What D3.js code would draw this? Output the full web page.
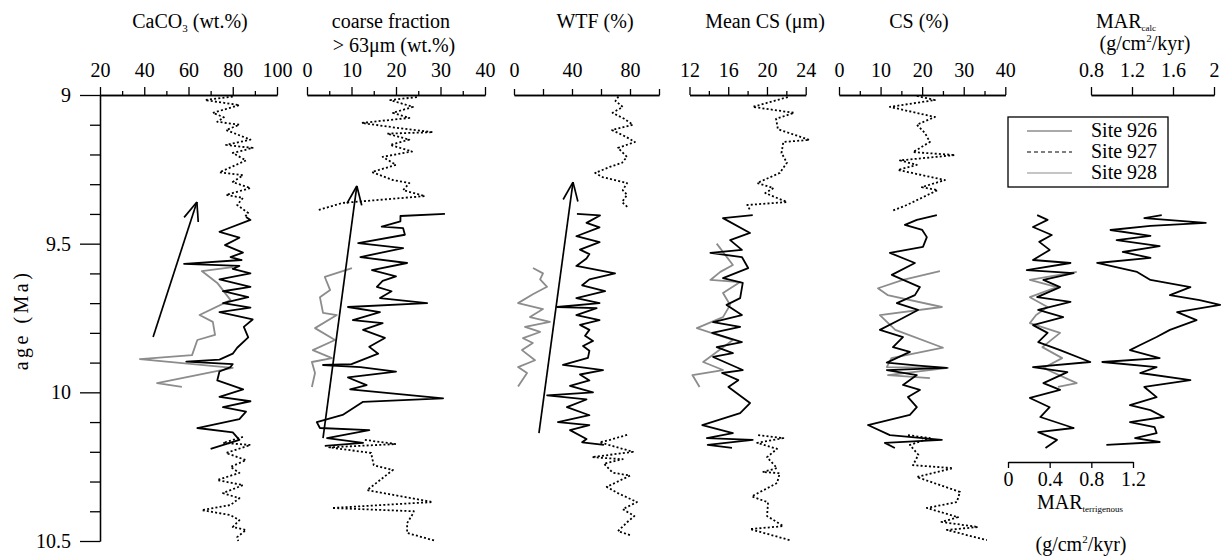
<!DOCTYPE html>
<html>
<head>
<meta charset="utf-8">
<script src="https://cdn.jsdelivr.net/npm/d3@7"></script>
<style>
  body { margin: 0; background: #fff; }
  text { font-family: "Liberation Serif", "Times New Roman", serif; fill: #000; }
</style>
</head>
<body>
<div id="chart"></div>
<script>

// ---- data: [age (Ma), value] ----

var ageMajor = [9, 9.5, 10, 10.5];
var ageMinor = [9.1, 9.2, 9.3, 9.4, 9.6, 9.7, 9.8, 9.9, 10.1, 10.2, 10.3, 10.4];

// CaCO3 (wt.%)
var caco3_927a = [[9.005,80],[9.017,67.5],[9.034,83],[9.06,71],[9.075,76],[9.09,73],[9.10,83],[9.118,77],[9.15,88],[9.168,77],[9.178,89],[9.195,80],[9.22,86],[9.24,80],[9.26,74],[9.27,84.6],[9.293,80],[9.313,88],[9.336,77],[9.346,84.6],[9.37,82],[9.397,87],[9.41,85.5]];
var caco3_926 = [[9.41,86],[9.42,88],[9.46,74],[9.48,83],[9.505,76.5],[9.53,84.6],[9.545,79],[9.555,84],[9.568,58],[9.575,83],[9.585,80],[9.60,88],[9.62,74],[9.645,88],[9.66,75.6],[9.68,87],[9.70,75.6],[9.715,88],[9.73,74],[9.755,89],[9.78,85],[9.815,87],[9.85,82],[9.87,80],[9.89,74],[9.897,59],[9.905,80],[9.915,79],[9.93,74],[9.96,73],[9.99,84.7],[10.015,74],[10.03,88],[10.05,75.6],[10.065,86],[10.09,83],[10.12,64],[10.135,80],[10.16,83],[10.19,70]];
var caco3_928 = [[9.579,80],[9.592,66],[9.632,73],[9.69,79],[9.74,65],[9.763,71],[9.807,72],[9.824,64],[9.875,61.6],[9.888,38],[9.918,80],[9.969,45.8],[9.982,57]];
var caco3_927b = [[10.15,84.6],[10.17,75.6],[10.177,88],[10.204,77],[10.228,86],[10.251,79],[10.271,83],[10.295,73],[10.312,84.6],[10.339,75.6],[10.356,83],[10.379,79],[10.396,66],[10.413,79],[10.43,83],[10.453,80],[10.463,86],[10.487,82],[10.50,82.5]];

// coarse fraction > 63 um (wt.%)
var coarse_927a = [[9.007,24.7],[9.017,18.7],[9.04,23.8],[9.06,19.3],[9.077,23],[9.094,12.3],[9.11,20],[9.125,28.3],[9.13,18],[9.15,23],[9.168,18.7],[9.19,23.6],[9.208,17],[9.235,20],[9.259,14.6],[9.286,19.3],[9.296,23],[9.32,21.6],[9.34,26.5],[9.363,8],[9.387,2.5]];
var coarse_926 = [[9.40,31],[9.407,21],[9.425,21],[9.443,16.8],[9.448,21.6],[9.47,22],[9.498,11.5],[9.515,21.6],[9.545,12],[9.565,22.5],[9.589,14.6],[9.61,20],[9.625,17],[9.645,15.7],[9.66,19],[9.683,16.4],[9.70,27],[9.713,9.2],[9.73,16.4],[9.757,10.3],[9.767,17],[9.79,12.6],[9.817,17.5],[9.847,14],[9.87,16],[9.905,10],[9.908,3.6],[9.915,12],[9.93,20],[9.95,9.2],[9.976,13.4],[9.99,9.7],[10.02,30.6],[10.032,12.6],[10.076,8],[10.1,2.2],[10.12,2.9],[10.127,14],[10.154,4.5],[10.17,12.6],[10.18,4]];
var coarse_928 = [[9.582,10.1],[9.612,4.0],[9.656,5.2],[9.68,2.9],[9.733,3.6],[9.74,6.7],[9.784,1.8],[9.824,6.3],[9.858,1.3],[9.885,5.6],[9.898,1.1],[9.935,1.8],[9.982,1.1]];
var coarse_927b = [[10.16,13],[10.174,20],[10.185,5],[10.204,14.4],[10.245,15],[10.261,19.3],[10.30,16],[10.329,13.5],[10.369,28.2],[10.389,5.6],[10.40,24],[10.413,23.6],[10.44,22.5],[10.473,22.5],[10.50,29]];

// WTF (%)
var wtf_927a = [[9.005,72],[9.02,70],[9.04,75],[9.06,68],[9.08,76],[9.10,82],[9.118,67.6],[9.14,77],[9.158,83.4],[9.178,71.7],[9.208,77.9],[9.228,74.5],[9.242,66],[9.262,56],[9.276,61],[9.296,78],[9.32,75],[9.336,78],[9.36,74.5],[9.38,79]];
var wtf_926 = [[9.40,43.4],[9.405,59.3],[9.43,50],[9.445,59],[9.475,43],[9.495,59],[9.52,45.5],[9.535,52],[9.55,50],[9.575,43],[9.60,69.7],[9.62,52],[9.64,47],[9.66,62.8],[9.683,43],[9.70,59],[9.713,29.7],[9.717,57],[9.74,43],[9.757,59],[9.773,45.5],[9.79,52],[9.81,49],[9.827,54.5],[9.844,47.6],[9.86,52],[9.884,51],[9.908,33.8],[9.925,61.4],[9.94,45.5],[9.96,52],[9.978,38.6],[10.0,54.5],[10.01,22.8],[10.024,50],[10.05,36.5],[10.077,52],[10.1,30.3],[10.11,52],[10.127,38.6],[10.157,50],[10.168,47],[10.177,62]];
var wtf_928 = [[9.582,13.1],[9.60,20],[9.62,18],[9.645,22.8],[9.67,13],[9.70,2.8],[9.72,20],[9.747,11],[9.763,24.8],[9.78,7.6],[9.797,18],[9.818,6.2],[9.834,13],[9.858,5.5],[9.892,14.5],[9.915,2.8],[9.935,9],[9.98,2.8]];
var wtf_927b = [[10.143,78],[10.16,66],[10.168,59],[10.20,82],[10.218,53.8],[10.225,75],[10.24,62],[10.27,68],[10.28,80],[10.318,64],[10.34,72],[10.369,84.8],[10.393,75],[10.416,83],[10.437,78],[10.467,71.7],[10.48,80]];

// Mean CS (um)
var mcs_927a = [[9.007,22.15],[9.04,18.53],[9.06,22.8],[9.08,20.94],[9.115,21.13],[9.151,24.38],[9.158,21.69],[9.195,21.5],[9.228,22.06],[9.262,21.32],[9.296,18.99],[9.313,20.67],[9.33,19.83],[9.36,22.06],[9.37,17.97],[9.387,18.25]];
var mcs_926 = [[9.404,18.53],[9.414,15.46],[9.464,18.25],[9.488,16.2],[9.521,17.41],[9.531,14.16],[9.545,17.41],[9.582,18.06],[9.616,15.46],[9.632,17.5],[9.683,17.23],[9.706,15.83],[9.74,17.41],[9.764,14.44],[9.78,17.23],[9.80,14.34],[9.831,17.41],[9.848,14.81],[9.868,16.48],[9.881,14.44],[9.925,17.5],[9.935,15.37],[9.959,17.04],[9.982,16.02],[10.036,18.25],[10.07,17.23],[10.11,13.32],[10.137,16.48],[10.154,13.79],[10.16,18.53],[10.177,13.88],[10.187,16.39]];
var mcs_928 = [[9.50,14.81],[9.572,16.48],[9.595,15.18],[9.622,14.16],[9.629,17.23],[9.666,15.46],[9.706,16.2],[9.747,15.46],[9.784,12.76],[9.824,16.48],[9.898,13.41],[9.925,15.46],[9.942,12.3],[9.982,13.04]];
var mcs_927b = [[10.144,19.09],[10.154,21.69],[10.17,18.99],[10.19,21.04],[10.218,20.01],[10.255,21.04],[10.268,19.55],[10.272,21.32],[10.305,21.04],[10.35,18.43],[10.37,20.11],[10.416,20.01],[10.45,21.69],[10.46,18.25],[10.497,22.34]];

// CS (%)
var cs_927a = [[9.003,18.72],[9.017,23.07],[9.04,12.24],[9.074,23.07],[9.10,18.72],[9.128,20.67],[9.158,21.87],[9.192,17.8],[9.202,27.89],[9.22,14.65],[9.235,18.72],[9.252,14.18],[9.286,25.48],[9.31,19.92],[9.32,23.72],[9.37,16.31],[9.39,12.7]];
var cs_926 = [[9.404,23.54],[9.42,18.72],[9.437,15.85],[9.454,20.02],[9.478,21.13],[9.511,20.2],[9.531,12.24],[9.565,18.26],[9.605,12.7],[9.646,19.46],[9.673,18.26],[9.70,13.91],[9.723,19.0],[9.757,14.46],[9.79,9.83],[9.814,15.39],[9.848,12.98],[9.864,17.05],[9.90,11.5],[9.91,19.09],[9.918,25.94],[9.925,11.5],[9.942,18.72],[9.975,15.39],[9.992,19.46],[10.016,16.59],[10.05,18.72],[10.076,17.05],[10.11,6.96],[10.144,12.24],[10.16,24.74],[10.17,11.04],[10.187,13.44]];
var cs_928 = [[9.592,24.28],[9.622,15.39],[9.65,9.37],[9.673,11.68],[9.713,24.74],[9.74,9.83],[9.79,13.54],[9.85,25.02],[9.885,12.61],[9.915,11.5],[9.918,26.22],[9.942,11.78],[9.952,21.87]];
var cs_927b = [[10.144,16.59],[10.154,21.87],[10.177,17.05],[10.21,19.09],[10.245,17.8],[10.255,27.42],[10.285,18.72],[10.335,29.09],[10.369,28.35],[10.389,21.13],[10.42,28.63],[10.436,24.65],[10.453,33.44],[10.463,25.94],[10.497,35.57]];

// MAR calc (g/cm2/kyr)
var marc_926 = [[9.404,1.49],[9.414,1.32],[9.43,1.92],[9.44,1.38],[9.454,0.99],[9.474,1.38],[9.488,1.05],[9.508,1.47],[9.528,1.11],[9.548,1.38],[9.565,0.86],[9.595,1.25],[9.622,1.38],[9.646,1.77],[9.673,1.57],[9.69,1.86],[9.706,2.06],[9.73,1.64],[9.757,1.83],[9.79,1.57],[9.814,1.44],[9.841,1.28],[9.858,1.18],[9.885,1.47],[9.898,0.91],[9.915,1.44],[9.935,1.28],[9.959,1.77],[9.982,1.32],[10.016,1.44],[10.043,1.18],[10.06,1.38],[10.083,1.51],[10.1,1.18],[10.117,1.42],[10.137,1.44],[10.154,1.23],[10.167,1.47],[10.177,0.95]];

// MAR terrigenous (g/cm2/kyr)
var mart_926 = [[9.404,0.28],[9.42,0.38],[9.444,0.24],[9.471,0.42],[9.494,0.30],[9.521,0.40],[9.555,0.24],[9.565,0.60],[9.589,0.18],[9.599,0.63],[9.622,0.34],[9.646,0.50],[9.68,0.28],[9.696,0.60],[9.723,0.29],[9.747,0.53],[9.774,0.24],[9.80,0.38],[9.831,0.29],[9.858,0.50],[9.898,0.79],[9.915,0.24],[9.932,0.57],[9.969,0.34],[9.992,0.50],[10.019,0.21],[10.05,0.40],[10.083,0.31],[10.12,0.63],[10.134,0.29],[10.16,0.47],[10.187,0.36]];
var mart_928 = [[9.595,0.66],[9.622,0.21],[9.646,0.47],[9.68,0.21],[9.713,0.38],[9.74,0.27],[9.767,0.21],[9.80,0.50],[9.848,0.33],[9.885,0.52],[9.918,0.34],[9.969,0.66],[9.982,0.48]];

// trend arrows [age, value] tail -> head
var arrowCaco3 = [[9.814,44],[9.36,63.8]];
var arrowCoarse = [[10.154,3.6],[9.306,11.2]];
var arrowWtf = [[10.137,17.2],[9.293,40.7]];

var legendSites = ["Site 926", "Site 927", "Site 928"];

// ---- drawing ----

var svg = d3.select("#chart").append("svg")
    .attr("width", 1224)
    .attr("height", 559);

var y = d3.scaleLinear().domain([9, 10.5]).range([95, 541]);

var styles = {
  s926: {stroke: "#000", width: 1.8, dash: null},
  s927: {stroke: "#000", width: 1.8, dash: "2,2.2"},
  s928: {stroke: "#8c8c8c", width: 1.8, dash: null}
};

var panels = [
  {domain: [20, 100], range: [100, 277], major: [20,40,60,80,100], minor: [30,50,70,90], tick: 8,
   series: [["s927", caco3_927a], ["s927", caco3_927b], ["s928", caco3_928], ["s926", caco3_926]],
   arrow: arrowCaco3},
  {domain: [0, 40], range: [307, 485], major: [0,10,20,30,40], minor: [5,15,25,35], tick: 8,
   series: [["s927", coarse_927a], ["s927", coarse_927b], ["s928", coarse_928], ["s926", coarse_926]],
   arrow: arrowCoarse},
  {domain: [0, 100], range: [514, 659], major: [0,40,80], minor: [20,60,100], tick: 6, minorTick: 6,
   series: [["s927", wtf_927a], ["s927", wtf_927b], ["s928", wtf_928], ["s926", wtf_926]],
   arrow: arrowWtf},
  {domain: [12, 24], range: [689.5, 805.7], major: [12,16,20,24], minor: [14,18,22], tick: 8,
   series: [["s927", mcs_927a], ["s927", mcs_927b], ["s928", mcs_928], ["s926", mcs_926]]},
  {domain: [0, 40], range: [839, 1005.3], major: [0,10,20,30,40], minor: [5,15,25,35], tick: 8,
   series: [["s927", cs_927a], ["s927", cs_927b], ["s928", cs_928], ["s926", cs_926]]},
  {domain: [0.8, 2], range: [1091, 1214], major: [0.8,1.2,1.6,2], minor: [], tick: 8,
   series: [["s926", marc_926]]}
];

function drawSeries(xs, list) {
  var line = d3.line()
      .x(function(d) { return xs(d[1]); })
      .y(function(d) { return y(d[0]); });
  list.forEach(function(s) {
    var st = styles[s[0]];
    svg.append("path")
      .datum(s[1])
      .attr("d", line)
      .attr("fill", "none")
      .attr("stroke", st.stroke)
      .attr("stroke-width", st.width)
      .attr("stroke-linejoin", "round")
      .attr("stroke-dasharray", st.dash);
  });
}

function drawArrow(xs, a) {
  var x1 = xs(a[0][1]), y1 = y(a[0][0]), x2 = xs(a[1][1]), y2 = y(a[1][0]);
  var ang = Math.atan2(y1 - y2, x1 - x2), len = 20, spread = 0.38;
  svg.append("line").attr("x1", x1).attr("y1", y1).attr("x2", x2).attr("y2", y2)
    .attr("stroke", "#000").attr("stroke-width", 1.7);
  [-spread, spread].forEach(function(s) {
    svg.append("line").attr("x1", x2).attr("y1", y2)
      .attr("x2", x2 + len * Math.cos(ang + s)).attr("y2", y2 + len * Math.sin(ang + s))
      .attr("stroke", "#000").attr("stroke-width", 1.7);
  });
}

panels.forEach(function(p) {
  var xs = d3.scaleLinear().domain(p.domain).range(p.range);

  svg.append("g")
    .attr("transform", "translate(0,95)")
    .call(d3.axisTop(xs).tickValues(p.minor).tickSize(p.minorTick || 4).tickSizeOuter(0).tickFormat(""));
  svg.append("g")
    .attr("transform", "translate(0,95)")
    .call(d3.axisTop(xs).tickValues(p.major).tickSize(p.tick).tickSizeOuter(0).tickPadding(26 - p.tick - 8)
      .tickFormat(d3.format("")))
    .selectAll("text").attr("font-size", 20);

  drawSeries(xs, p.series);
  if (p.arrow) drawArrow(xs, p.arrow);
});

// age axis
svg.append("g")
  .attr("transform", "translate(100,0)")
  .call(d3.axisLeft(y).tickValues(ageMinor).tickSize(10).tickSizeOuter(0).tickFormat(""));
svg.append("g")
  .attr("transform", "translate(100,0)")
  .call(d3.axisLeft(y).tickValues(ageMajor).tickSize(20).tickSizeOuter(0).tickPadding(9).tickFormat(d3.format("")))
  .selectAll("text").attr("font-size", 20);

svg.append("text")
  .attr("transform", "translate(28,320) rotate(-90)")
  .attr("text-anchor", "middle")
  .attr("font-size", 20)
  .attr("letter-spacing", 3.5)
  .text("age (Ma)");

// MAR terrigenous axis
var xt = d3.scaleLinear().domain([0, 1.2]).range([1008, 1133]);
svg.append("g")
  .attr("transform", "translate(0,462)")
  .call(d3.axisBottom(xt).tickValues([0, 0.4, 0.8, 1.2]).tickSize(6).tickSizeOuter(0).tickPadding(4)
    .tickFormat(d3.format("")))
  .selectAll("text").attr("font-size", 20);
drawSeries(xt, [["s928", mart_928], ["s926", mart_926]]);

svg.selectAll(".domain, .tick line").attr("stroke", "#000").attr("stroke-width", 1.3);
svg.selectAll(".tick text").attr("fill", "#000");

// titles
function title(x, yy, parts, size) {
  var t = svg.append("text").attr("x", x).attr("y", yy).attr("text-anchor", "middle").attr("font-size", size || 20);
  parts.forEach(function(p) {
    var ts = t.append("tspan").text(p[0]);
    if (p[1] === "sub") ts.attr("font-size", 11).attr("dy", 4);
    if (p[1] === "subs") ts.attr("font-size", 9).attr("dy", 3);
    if (p[1] === "sup") ts.attr("font-size", 11).attr("dy", -8);
    if (p[1] === "back") ts.attr("dy", p[2]);
  });
}
title(190, 28, [["CaCO"], ["3", "sub"], [" (wt.%)", "back", -4]]);
title(391, 28, [["coarse fraction"]]);
title(394, 52, [["> 63μm (wt.%)"]]);
title(595, 28, [["WTF (%)"]]);
title(765, 28, [["Mean CS (μm)"]]);
title(919, 28, [["CS (%)"]]);
title(1126, 28, [["MAR"], ["calc", "subs"]]);
title(1145, 50, [["(g/cm"], ["2", "sup"], ["/kyr)", "back", 8]]);
title(1080, 509, [["MAR"], ["terrigenous", "subs"]]);
title(1081, 551, [["(g/cm"], ["2", "sup"], ["/kyr)", "back", 8]]);

// legend
var lg = svg.append("g").attr("transform", "translate(1008,117)");
lg.append("rect").attr("width", 160).attr("height", 70)
  .attr("fill", "#fff").attr("stroke", "#000").attr("stroke-width", 1.3);
var legKeys = ["s926", "s927", "s928"];
legendSites.forEach(function(name, i) {
  var st = styles[legKeys[i]];
  var ly = 14 + i * 21;
  lg.append("line").attr("x1", 19).attr("x2", 64).attr("y1", ly).attr("y2", ly)
    .attr("stroke", i === 0 ? "#555" : st.stroke).attr("stroke-width", 1.2)
    .attr("stroke-dasharray", i === 1 ? "4,3" : null);
  lg.append("text").attr("x", 83).attr("y", ly + 6).attr("font-size", 20).text(name);
});

</script>
</body>
</html>
